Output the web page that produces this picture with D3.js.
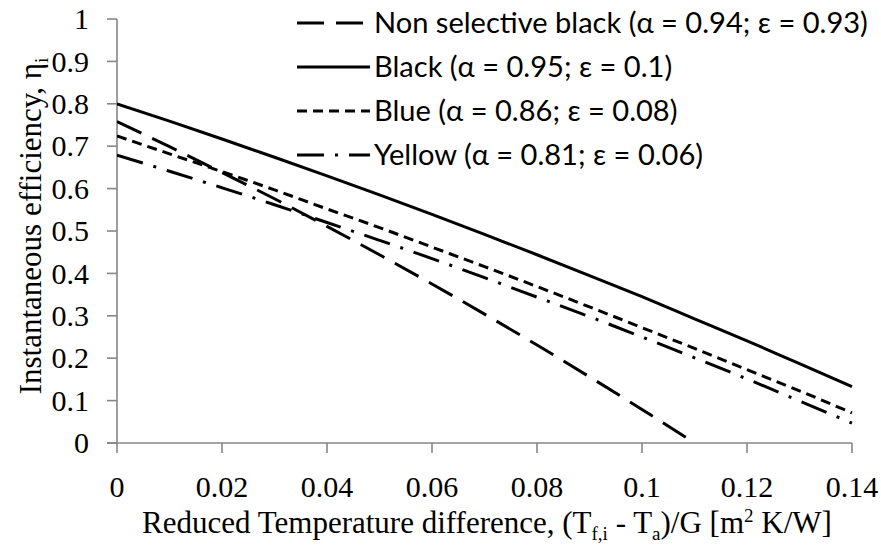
<!DOCTYPE html>
<html>
<head>
<meta charset="utf-8">
<script src="https://cdn.jsdelivr.net/npm/d3@7"></script>
<style>
  html, body { margin: 0; padding: 0; background: #fff; }
  svg { display: block; }
  .tick-label { font-family: "Liberation Serif", "Times New Roman", serif; font-size: 30px; }
</style>
</head>
<body>
<svg id="chart" width="881" height="546"></svg>
<script>
// reduced temperature difference (x) and efficiencies
const xValues = [0, 0.01, 0.02, 0.03, 0.04, 0.05, 0.06, 0.07, 0.08, 0.09, 0.10, 0.11, 0.12, 0.13, 0.14];

const nonSelectiveBlack = [0.758, 0.699, 0.638, 0.576, 0.511, 0.444, 0.375, 0.304, 0.231, 0.156, 0.079, 0.000];
const blackSelective = [0.800, 0.759, 0.717, 0.674, 0.630, 0.585, 0.539, 0.492, 0.444, 0.395, 0.345, 0.293, 0.241, 0.187, 0.133];
const blueSelective = [0.724, 0.682, 0.640, 0.597, 0.552, 0.508, 0.462, 0.416, 0.369, 0.321, 0.272, 0.223, 0.173, 0.123, 0.071];
const yellowSelective = [0.679, 0.641, 0.602, 0.562, 0.520, 0.478, 0.435, 0.390, 0.344, 0.298, 0.250, 0.201, 0.151, 0.099, 0.047];

const seriesNames = [
  "Non selective black (α = 0.94; ε = 0.93)",
  "Black (α = 0.95; ε = 0.1)",
  "Blue (α = 0.86; ε = 0.08)",
  "Yellow (α = 0.81; ε = 0.06)"
];

const xTicks = [0, 0.02, 0.04, 0.06, 0.08, 0.1, 0.12, 0.14];
const yTicks = [0, 0.1, 0.2, 0.3, 0.4, 0.5, 0.6, 0.7, 0.8, 0.9, 1];

const settings = {
  left: 117,
  right: 852,
  top: 19,
  bottom: 443,
  axisColor: "#868686",
  serif: "Liberation Serif, Times New Roman, serif",
  sans: "Lato, Open Sans, sans-serif",
  tickSize: 30,
  titleSize: 31,
  lineWidth: 3
};

// dash pattern for each series, same order as seriesNames
const dashes = ["27,12", null, "10,6", "27,11,3,11"];

const svg = d3.select("#chart");

const x = d3.scaleLinear().domain([0, 0.14]).range([settings.left, settings.right]);
const y = d3.scaleLinear().domain([0, 1]).range([settings.bottom, settings.top]);
const fmt = d3.format("~g");

const series = [nonSelectiveBlack, blackSelective, blueSelective, yellowSelective].map((vals, i) => ({
  name: seriesNames[i],
  dash: dashes[i],
  points: vals.map((v, j) => [xValues[j], v])
}));

// axes: lines and tick marks
const axes = svg.append("g")
  .attr("stroke", settings.axisColor)
  .attr("stroke-width", 1.6);

axes.append("line")
  .attr("x1", settings.left).attr("x2", settings.left)
  .attr("y1", y(1)).attr("y2", y(0));
axes.append("line")
  .attr("x1", settings.left - 10).attr("x2", x(0.14))
  .attr("y1", y(0)).attr("y2", y(0));

axes.selectAll(".ytick")
  .data(yTicks)
  .join("line")
  .attr("class", "ytick")
  .attr("x1", settings.left - 10).attr("x2", settings.left)
  .attr("y1", d => y(d)).attr("y2", d => y(d));

axes.selectAll(".xtick")
  .data(xTicks)
  .join("line")
  .attr("class", "xtick")
  .attr("x1", d => x(d)).attr("x2", d => x(d))
  .attr("y1", y(0)).attr("y2", y(0) + 10);

// tick labels
const labels = svg.append("g").attr("fill", "#000");

labels.selectAll(".ylabel")
  .data(yTicks)
  .join("text")
  .attr("class", "ylabel tick-label")
  .attr("font-family", settings.serif)
  .attr("font-size", settings.tickSize)
  .attr("x", settings.left - 28)
  .attr("y", d => y(d))
  .attr("dy", "0.34em")
  .attr("text-anchor", "end")
  .text(d => fmt(d));

labels.selectAll(".xlabel")
  .data(xTicks)
  .join("text")
  .attr("class", "xlabel tick-label")
  .attr("font-family", settings.serif)
  .attr("font-size", settings.tickSize)
  .attr("x", d => x(d))
  .attr("y", y(0) + 54)
  .attr("text-anchor", "middle")
  .text(d => fmt(d));

// curves
svg.append("clipPath").attr("id", "plot-clip")
  .append("rect")
  .attr("x", settings.left)
  .attr("y", settings.top - 5)
  .attr("width", settings.right - settings.left + 4)
  .attr("height", settings.bottom - settings.top + 5);

const line = d3.line()
  .x(d => x(d[0]))
  .y(d => y(d[1]))
  .curve(d3.curveMonotoneX);

svg.append("g")
  .attr("clip-path", "url(#plot-clip)")
  .selectAll("path")
  .data(series)
  .join("path")
  .attr("d", d => line(d.points))
  .attr("fill", "none")
  .attr("stroke", "#000")
  .attr("stroke-width", settings.lineWidth)
  .attr("stroke-dasharray", d => d.dash);

// legend
const legendRows = [23, 67, 111, 155];

const legendItems = svg.append("g")
  .selectAll("g")
  .data(series)
  .join("g")
  .attr("transform", (d, i) => `translate(0,${legendRows[i]})`);

legendItems.append("line")
  .attr("x1", 297)
  .attr("x2", 370)
  .attr("stroke", "#000")
  .attr("stroke-width", settings.lineWidth)
  .attr("stroke-dasharray", d => d.dash);

const legendText = legendItems.append("text")
  .attr("x", 374)
  .attr("dy", "0.35em")
  .style("font-family", settings.sans)
  .style("font-size", "25px")
  .attr("fill", "#000")
  .text(d => d.name);

// fit the legend font so the longest entry spans like the original
const firstWidth = legendText.node().getComputedTextLength();
legendText.style("font-size", (25 * 494 / firstWidth) + "px");

// axis titles
const subSize = 19;

const xTitle = svg.append("text")
  .attr("x", 487)
  .attr("y", 533)
  .attr("text-anchor", "middle")
  .style("font-family", settings.serif)
  .style("font-size", settings.titleSize + "px")
  .attr("fill", "#000");

xTitle.append("tspan").text("Reduced Temperature difference, (T");
xTitle.append("tspan").attr("font-size", subSize).attr("dy", 7).text("f,i");
xTitle.append("tspan").attr("dy", -7).text(" - T");
xTitle.append("tspan").attr("font-size", subSize).attr("dy", 7).text("a");
xTitle.append("tspan").attr("dy", -7).text(")/G [m");
xTitle.append("tspan").attr("font-size", subSize).attr("dy", -11).text("2");
xTitle.append("tspan").attr("dy", 11).text(" K/W]");

const yTitle = svg.append("text")
  .attr("transform", "translate(41,226) rotate(-90)")
  .attr("text-anchor", "middle")
  .style("font-family", settings.serif)
  .style("font-size", settings.titleSize + "px")
  .attr("fill", "#000");

yTitle.append("tspan").text("Instantaneous efficiency, η");
yTitle.append("tspan").attr("font-size", subSize).attr("dy", 7).text("i");
</script>
</body>
</html>
